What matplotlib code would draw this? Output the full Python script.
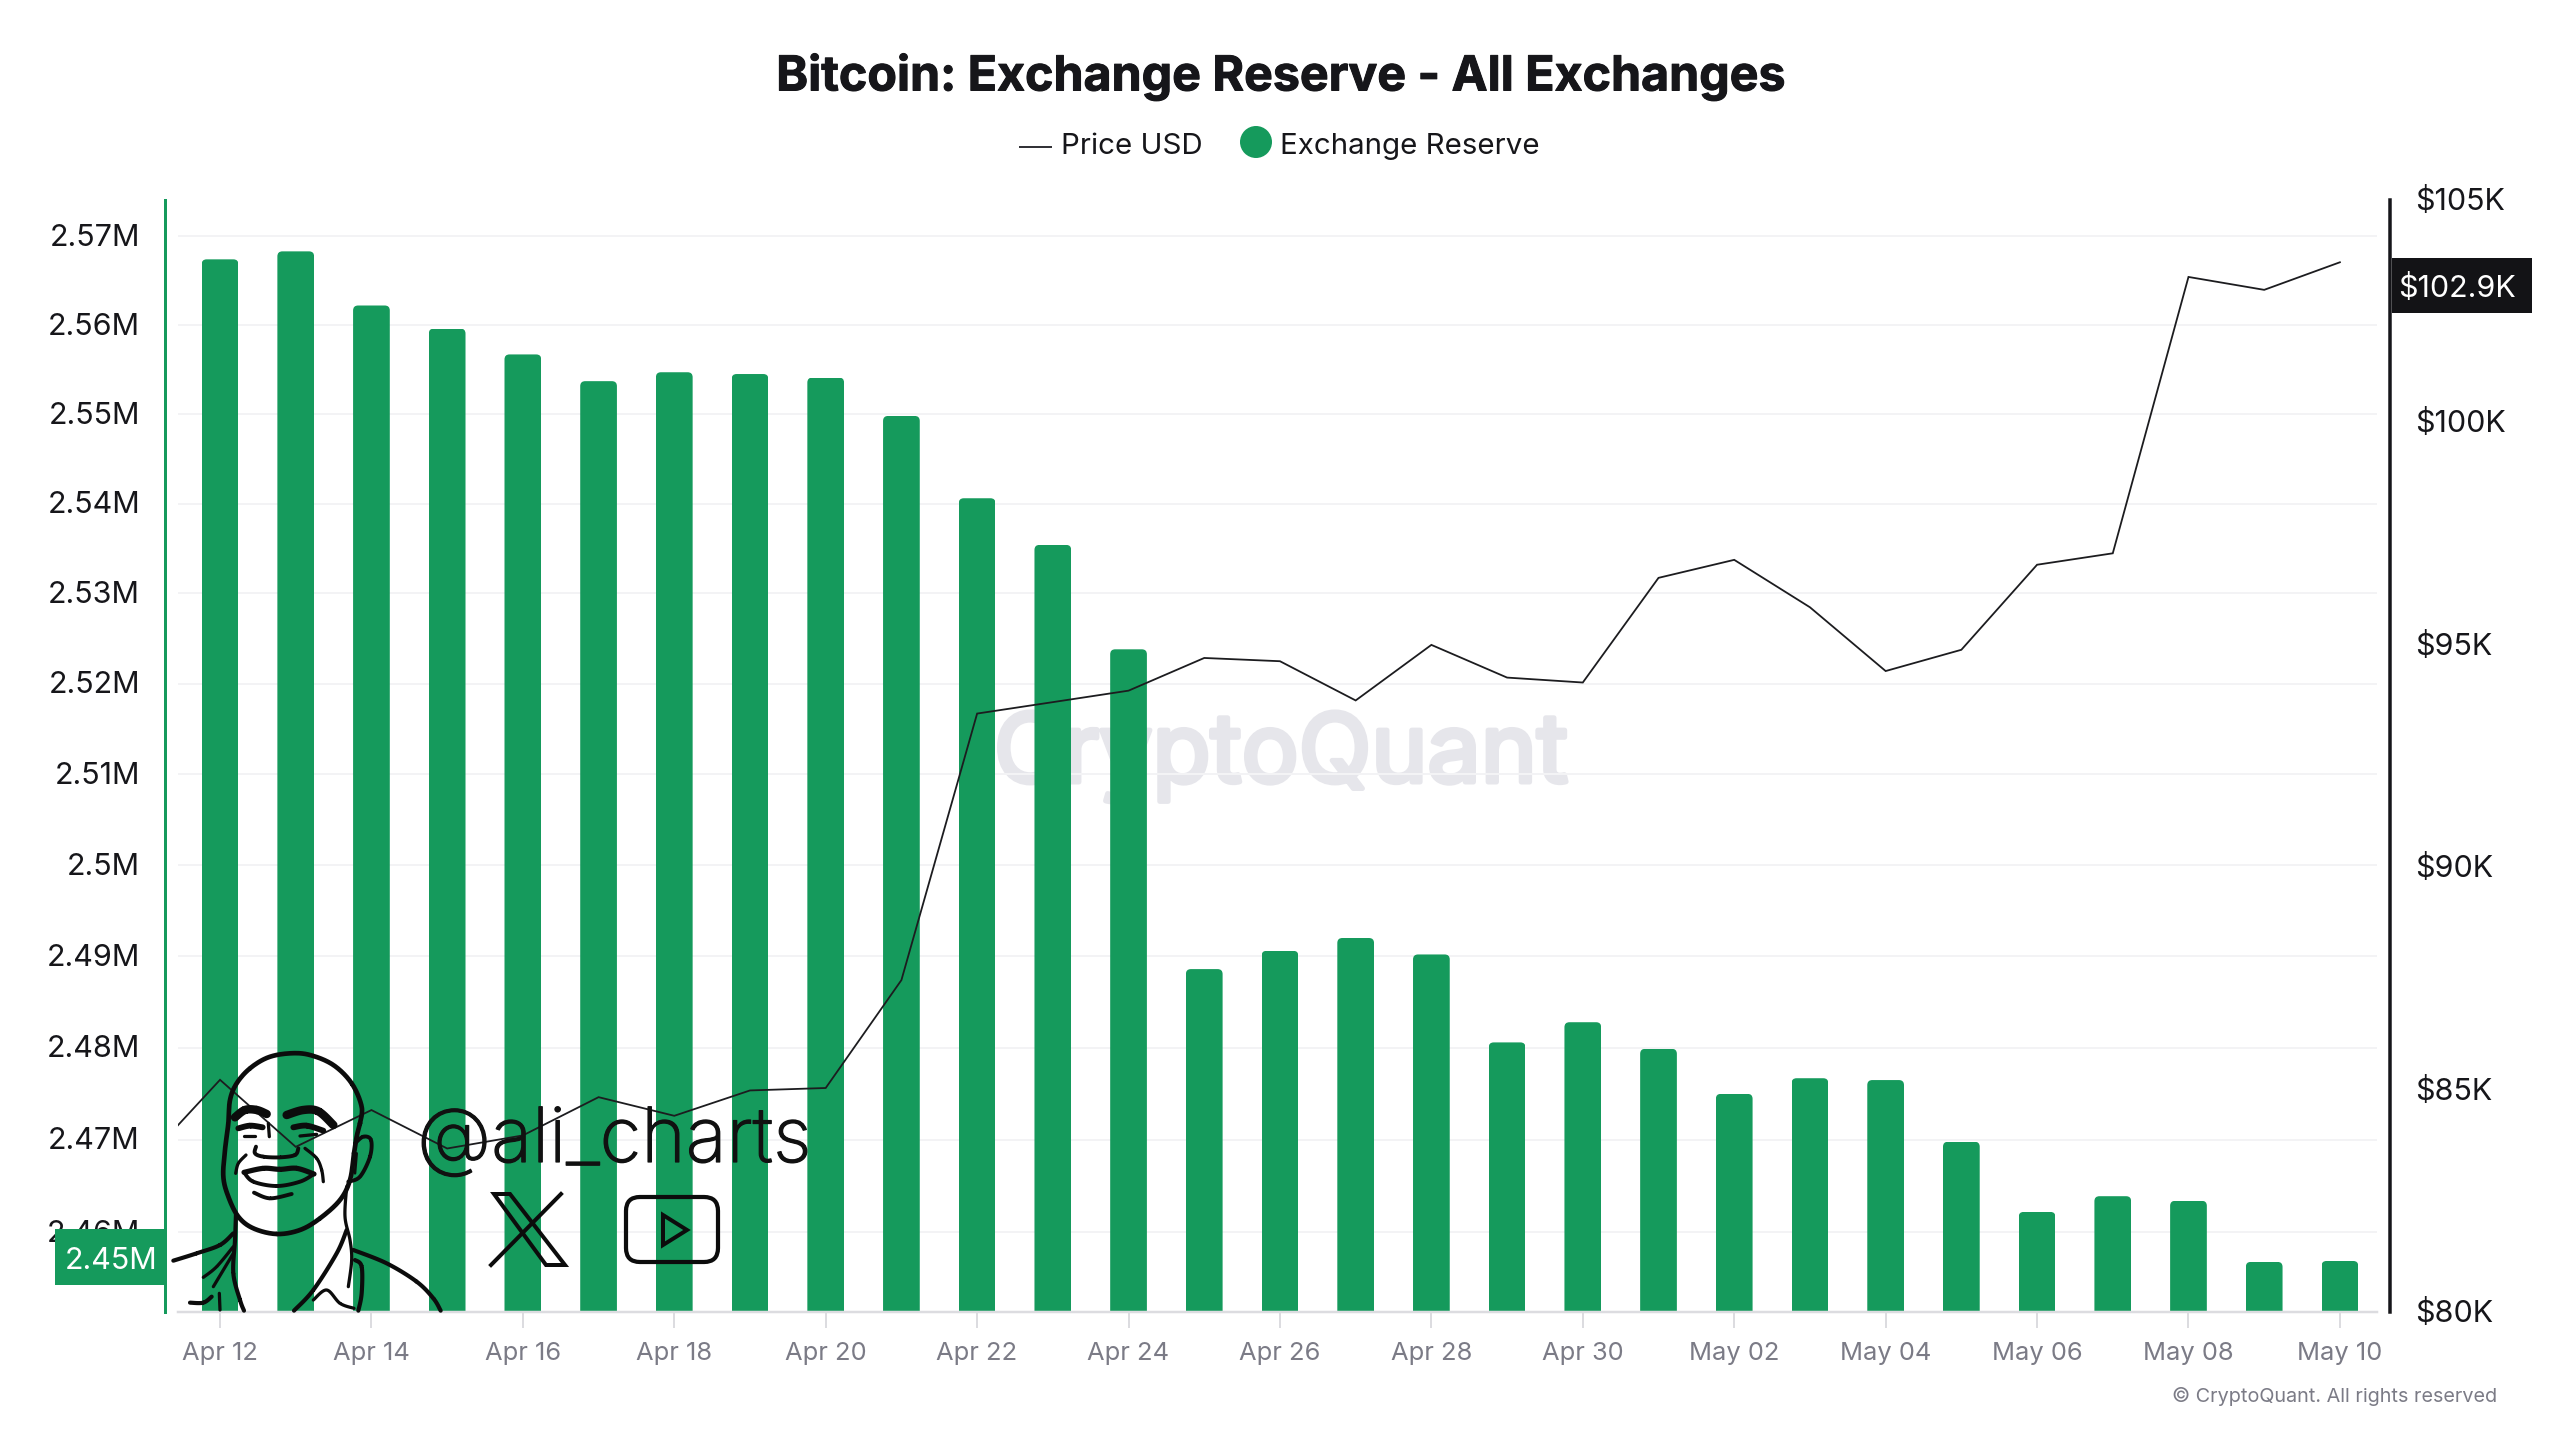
import numpy as np
import matplotlib
matplotlib.use("Agg")
import matplotlib.pyplot as plt
import matplotlib.patheffects as pe
from matplotlib.patches import FancyBboxPatch, Polygon, Circle, Rectangle
from matplotlib.transforms import IdentityTransform, ScaledTranslation

W, H = 2560, 1440
FONT = "Inter"
plt.rcParams['font.family'] = [FONT, 'DejaVu Sans']

# ---------- data ----------
dates = ["Apr 12","Apr 13","Apr 14","Apr 15","Apr 16","Apr 17","Apr 18","Apr 19","Apr 20","Apr 21",
         "Apr 22","Apr 23","Apr 24","Apr 25","Apr 26","Apr 27","Apr 28","Apr 29","Apr 30","May 01",
         "May 02","May 03","May 04","May 05","May 06","May 07","May 08","May 09","May 10"]
reserve = [2.5674,2.5683,2.5622,2.5596,2.5567,2.5537,2.5547,2.5545,2.5541,2.5498,
           2.5406,2.5354,2.5238,2.4886,2.4906,2.4920,2.4902,2.4806,2.4828,2.4799,
           2.4750,2.4767,2.4765,2.4698,2.4622,2.4639,2.4634,2.4568,2.4569]
price_apr11 = 83382
price = [85220,83713,84540,83676,83970,84830,84411,84981,85036,87462,
         93454,93711,93969,94704,94631,93749,94998,94263,94152,96505,
         96910,95844,94410,94888,96800,97057,103270,102980,103600]
left_ticks = [2.46,2.47,2.48,2.49,2.50,2.51,2.52,2.53,2.54,2.55,2.56,2.57]
left_labels = ["2.46M","2.47M","2.48M","2.49M","2.5M","2.51M","2.52M","2.53M","2.54M","2.55M","2.56M","2.57M"]
right_ticks = [80000,85000,90000,95000,100000,105000]
right_labels = ["$80K","$85K","$90K","$95K","$100K","$105K"]
title = "Bitcoin: Exchange Reserve - All Exchanges"

GREEN = "#159A5C"
INK = "#16161a"
GREY = "#7b7b86"

fig = plt.figure(figsize=(25.6, 14.4), dpi=100, facecolor="white")
PX = 0.72  # px -> pt at dpi 100
nudge_up = ScaledTranslation(0, 1.5/100, fig.dpi_scale_trans)

# plot area in pixels
L, R, T, B = 178, 2377, 200, 1312
ax = fig.add_axes([L/W, 1-B/H, (R-L)/W, (B-T)/H], zorder=1)
ax.set_facecolor("none")
ax.set_yscale("log")
x = np.arange(len(dates))
ax.set_xlim(-0.555, 28.49)
ax.set_ylim(2.4514, 2.5741)

ax.set_axisbelow(True)
ax.yaxis.set_major_locator(matplotlib.ticker.FixedLocator(left_ticks))
ax.yaxis.set_major_formatter(matplotlib.ticker.FixedFormatter(left_labels))
ax.yaxis.set_minor_locator(matplotlib.ticker.NullLocator())
ax.grid(axis="y", color="#f3f3f5", lw=2*PX, zorder=0)
ax.tick_params(axis="y", length=0, pad=25*PX, labelsize=30.5*PX, labelcolor=INK)

ax.set_xticks(x[::2])
ax.set_xticklabels(dates[::2])
ax.tick_params(axis="x", length=16*PX, width=2*PX, color="#dcdce0", pad=14*PX,
               labelsize=25.5*PX, labelcolor=GREY)
for s in ("top", "right"):
    ax.spines[s].set_visible(False)
ax.spines["bottom"].set_color("#dcdce0")
ax.spines["bottom"].set_linewidth(2.5*PX)
ax.spines["left"].set_position(("outward", 13*PX))
ax.spines["left"].set_color(GREEN)
ax.spines["left"].set_linewidth(3*PX)

# watermark, behind the bars
fig.text(1281/W, 1-782/H, "CryptoQuant", ha="center", va="baseline", fontsize=95*PX,
         color="#e6e6eb", zorder=0.5,
         path_effects=[pe.withStroke(linewidth=5*PX, foreground="#e6e6eb")])

BAR_FLOOR = 2.44
bars = ax.bar(x, np.array(reserve) - BAR_FLOOR, width=0.485, color=GREEN, linewidth=0, zorder=2,
              bottom=BAR_FLOOR)
fig.canvas.draw()
for b in bars:
    e = b.get_window_extent()
    r = 5
    clip = FancyBboxPatch((e.x0 + r, e.y0 - 40), e.width - 2*r, e.height + 40 - r,
                          boxstyle=f"round,pad={r},rounding_size={r}",
                          transform=IdentityTransform())
    b.set_clip_path(clip)

# price axis
ax2 = ax.twinx()
ax2.set_zorder(2)
ax2.set_facecolor("none")
ax2.set_ylim(80000, 105000)
ax2.set_xlim(ax.get_xlim())
ax2.set_yticks(right_ticks)
ax2.set_yticklabels(right_labels)
ax2.tick_params(axis="y", length=0, pad=25*PX, labelsize=30.5*PX, labelcolor=INK)
for s in ("top", "left", "bottom"):
    ax2.spines[s].set_visible(False)
ax2.spines["right"].set_position(("outward", 13*PX))
ax2.spines["right"].set_color(INK)
ax2.spines["right"].set_linewidth(3.5*PX)
ax2.plot(np.arange(-1, len(dates)), [price_apr11] + price, color="#1c1c1f", lw=1.8*PX, zorder=3,
         solid_joinstyle="miter")

for lab in ax.get_yticklabels() + ax2.get_yticklabels():
    lab.set_transform(lab.get_transform() + nudge_up)

# overlay in reference pixel coordinates (chrome and watermark only)
ov = fig.add_axes([0, 0, 1, 1], zorder=10)
ov.set_xlim(0, W); ov.set_ylim(H, 0); ov.axis("off")

ov.text(1280, 77, title, ha="center", va="center", fontsize=48.3*PX, fontweight="bold", color=INK,
        path_effects=[pe.withStroke(linewidth=1*PX, foreground=INK)])
ov.plot([1020, 1051], [147, 147], color="#333338", lw=2*PX)
ov.text(1061, 146, "Price USD", ha="left", va="center", fontsize=29.5*PX, color=INK)
ov.add_patch(Circle((1256, 142), 16, color=GREEN, lw=0))
ov.text(1280, 146, "Exchange Reserve", ha="left", va="center", fontsize=29.5*PX, color=INK)

ov.add_patch(Rectangle((55, 1229), 110, 56, color=GREEN, lw=0))
ov.text(111, 1261, "2.45M", ha="center", va="center", fontsize=30.5*PX, color="white")
ov.add_patch(Rectangle((2392, 258), 140, 55, color="#131316", lw=0))
ov.text(2398, 288, "$102.9K", ha="left", va="center", fontsize=30.5*PX, color="white")

ov.text(2497, 1397, "© CryptoQuant. All rights reserved", ha="right", va="center",
        fontsize=19.8*PX, color=GREY)

# signature: handle
ov.text(417, 1162, "@ali_charts", ha="left", va="baseline", fontsize=76*PX, color="#111111",
        fontweight="light", path_effects=[pe.withStroke(linewidth=1.2*PX, foreground="#111111")])

def curve(points, lw=3.6):
    """Smooth stroke through points given in crop units of the portrait."""
    p = np.array(points, float)
    p = np.c_[170 + p[:, 0]/3, 1040 + p[:, 1]/3]
    q = np.vstack([p[0], p, p[-1]])
    out = []
    t = np.linspace(0, 1, 14)[:, None]
    for i in range(1, len(q) - 2):
        a, b, c, d = q[i-1], q[i], q[i+1], q[i+2]
        out.append(0.5*((2*b) + (-a + c)*t + (2*a - 5*b + 4*c - d)*t**2 + (-a + 3*b - 3*c + d)*t**3))
    out = np.vstack(out)
    ov.plot(out[:, 0], out[:, 1], color="#0c0c0c", lw=lw*1.3*PX, solid_capstyle="round")

curve([(570,250),(575,200),(545,130),(490,75),(420,45),(360,40),(295,52),(240,85),(200,130),(180,180),
       (175,250),(165,330),(160,410),(175,470),(205,530),(250,565),(320,582),(390,570),(450,535),
       (510,480),(540,420),(552,340),(560,290),(570,250)])
curve([(195,232),(225,210),(260,210),(290,222)], lw=6.5)
curve([(350,225),(400,210),(445,214),(490,255)], lw=6.5)
curve([(205,265),(240,257),(278,262)], lw=4.5)
curve([(222,288),(255,288)], lw=2.5)
curve([(370,262),(410,257),(460,272)], lw=4.5)
curve([(390,288),(440,283)], lw=2.5)
curve([(295,250),(298,290)], lw=2.5)
curve([(258,320),(255,340),(280,350),(330,352),(375,345),(385,325)], lw=3)
curve([(228,345),(205,370),(197,400)], lw=2.5)
curve([(405,325),(440,355),(455,390),(460,425)], lw=2.5)
curve([(222,397),(280,385),(330,388),(380,385),(432,402)], lw=4)
curve([(222,397),(250,425),(320,438),(390,425),(432,402)], lw=3)
curve([(252,458),(300,475),(365,462)], lw=3)
curve([(555,310),(580,290),(603,300),(600,350),(570,410),(535,425)], lw=3)
curve([(560,340),(555,400)], lw=2)
curve([(198,520),(195,600),(190,700),(210,780),(222,812)], lw=3.2)
curve([(530,440),(525,530),(540,600),(545,660),(535,740)], lw=2.5)
curve([(530,570),(500,640),(430,750),(372,812)], lw=3.2)
curve([(550,630),(650,670),(740,725),(790,775),(812,812)], lw=3.2)
curve([(10,662),(80,640),(150,615),(190,580)], lw=3.2)
curve([(190,620),(140,680),(100,712)], lw=2.5)
curve([(190,640),(130,740)], lw=2.5)
curve([(60,788),(100,788),(125,770)], lw=3.2)
curve([(148,760),(150,810)], lw=2.5)
curve([(430,780),(470,750),(510,790),(552,805)], lw=2.5)
curve([(555,660),(575,680),(575,760),(565,812)], lw=3.2)

# signature: X icon
ov.add_patch(Polygon([(494,1194),(510,1194),(565,1265),(546,1265)], closed=True, fill=False,
                     edgecolor="#0c0c0c", lw=4*PX))
ov.plot([561, 491], [1194, 1265], color="#0c0c0c", lw=4*PX)
# signature: play icon
ov.add_patch(FancyBboxPatch((638, 1209), 68, 41, boxstyle="round,pad=12,rounding_size=14",
                            fill=False, edgecolor="#0c0c0c", lw=4.2*PX))
ov.add_patch(Polygon([(663,1215),(687,1230),(663,1245)], closed=True, fill=False,
                     edgecolor="#0c0c0c", lw=4*PX))

fig.savefig("out.png", dpi=100, facecolor="white")
